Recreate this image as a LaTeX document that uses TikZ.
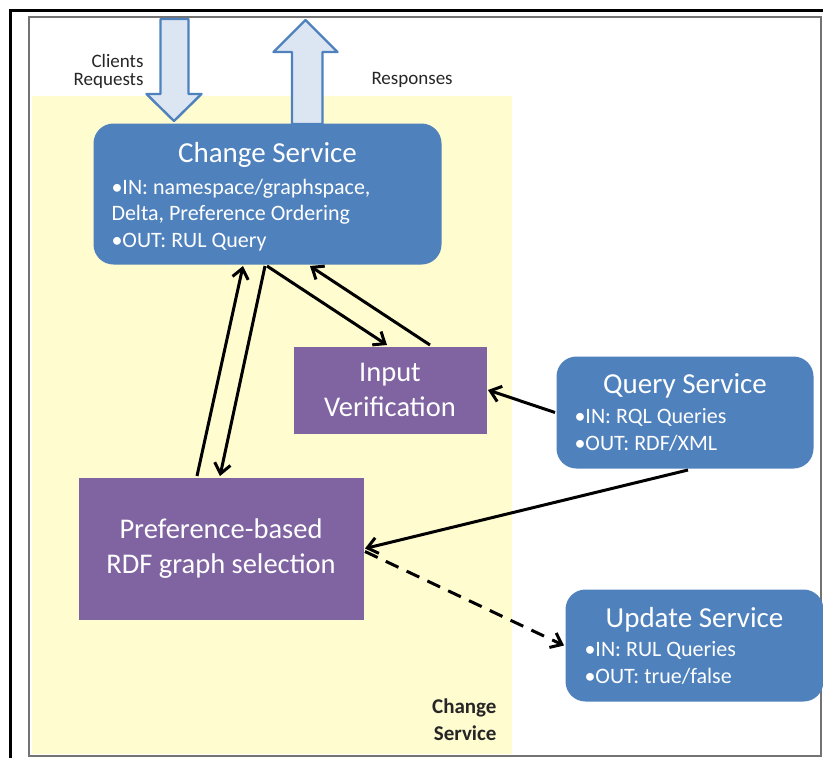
\documentclass[tikz,border=0pt]{standalone}
\usepackage{fontspec}
\setmainfont{Carlito}
\usetikzlibrary{arrows.meta,calc}
\definecolor{boxblue}{RGB}{79,129,189}
\definecolor{boxpurple}{RGB}{128,100,162}
\definecolor{areayellow}{RGB}{255,252,208}
\definecolor{arrowfill}{RGB}{220,230,242}
\begin{document}
\begin{tikzpicture}[x=1pt, y=-1pt, >={Straight Barb[length=10pt,width=16pt]}, line width=3pt,
    svc/.style={fill=boxblue, rounded corners=20pt, anchor=north west, inner sep=0pt},
    task/.style={fill=boxpurple, text=white, align=center, anchor=north west, inner sep=0pt, font=\fontsize{28.5}{35}\selectfont},
    title/.style={text=white, inner sep=0pt, anchor=base, font=\fontsize{29}{32}\selectfont},
    body/.style={text=white, inner sep=0pt, align=left, anchor=base west, font=\fontsize{22}{26.5}\selectfont},
    note/.style={text=black!85, inner sep=0pt, font=\fontsize{19}{18}\selectfont},
    blockarrow/.style={fill=arrowfill, draw=boxblue, line width=2.4pt, line join=round}]
    \useasboundingbox (0,0) rectangle (823,758);
    % frames and the shaded area
    \draw[black!55, line width=1.2pt] (29,17) rectangle (821,756);
    \draw[line width=3pt] (10,758) -- (10,10) -- (823,10);
    \fill[areayellow] (32,96) rectangle (512,754);
    % client arrows
    \draw[blockarrow] (160.5,19) -- (188.5,19) -- (188.5,94) -- (201.5,94) -- (174,121) -- (146.5,94) -- (160.5,94) -- cycle;
    \draw[blockarrow] (292,124) -- (292,52) -- (273.5,52) -- (305.5,20) -- (337.5,52) -- (322.5,52) -- (322.5,124) -- cycle;
    \node[note, align=right, anchor=base east] (clients) at (145,85) {Clients\\Requests};
    \node[note, anchor=base west] (responses) at (370,84) {Responses};
    % services
    \node[svc, minimum width=348pt, minimum height=141pt] (change) at (92,122) {};
    \node[title] (changetitle) at ($(change.north)+(0,40)$) {Change Service};
    \node[body] (changebody) at ($(change.north west)+(18,125)$) {•IN: namespace/graphspace,\\Delta, Preference Ordering\\•OUT: RUL Query};
    \node[svc, minimum width=257pt, minimum height=112pt] (query) at (555,355) {};
    \node[title] (querytitle) at ($(query.north)+(0,38)$) {Query Service};
    \node[body] (querybody) at ($(query.north west)+(18,95)$) {•IN: RQL Queries\\•OUT: RDF/XML};
    \node[svc, minimum width=258pt, minimum height=112pt] (update) at (564,588) {};
    \node[title] (updatetitle) at ($(update.north)+(0,39)$) {Update Service};
    \node[body] (updatebody) at ($(update.north west)+(19,95)$) {•IN: RUL Queries\\•OUT: true/false};
    % inner steps
    \node[task, minimum width=193pt, minimum height=87pt] (inputv) at (292,345) {Input\\Verification};
    \node[task, minimum width=285pt, minimum height=142pt] (pref) at (77,476) {Preference-based\\RDF graph selection};
    \node[text=black!85, inner sep=0pt, align=right, anchor=base east, font=\bfseries\fontsize{21}{27}\selectfont] (area) at (498,740) {Change\\Service};
    % connectors
    \draw[->] ($(pref.north west)+(120,0)$) -- ($(change.south west)+(151,0)$);
    \draw[->] ($(change.south west)+(173,0)$) -- ($(pref.north west)+(143,0)$);
    \draw[->] ($(change.south west)+(175,0)$) -- ($(inputv.north west)+(95,0)$);
    \draw[->] ($(inputv.north west)+(138,0)$) -- ($(change.south west)+(218,0)$);
    \draw[->] (query.west) -- (inputv.east);
    \draw[->] ($(query.south west)+(133,0)$) -- (pref.east);
    \draw[->, dash pattern=on 14pt off 9pt] ($(pref.east)+(0,3)$) -- (update.west);
\end{tikzpicture}
\end{document}
